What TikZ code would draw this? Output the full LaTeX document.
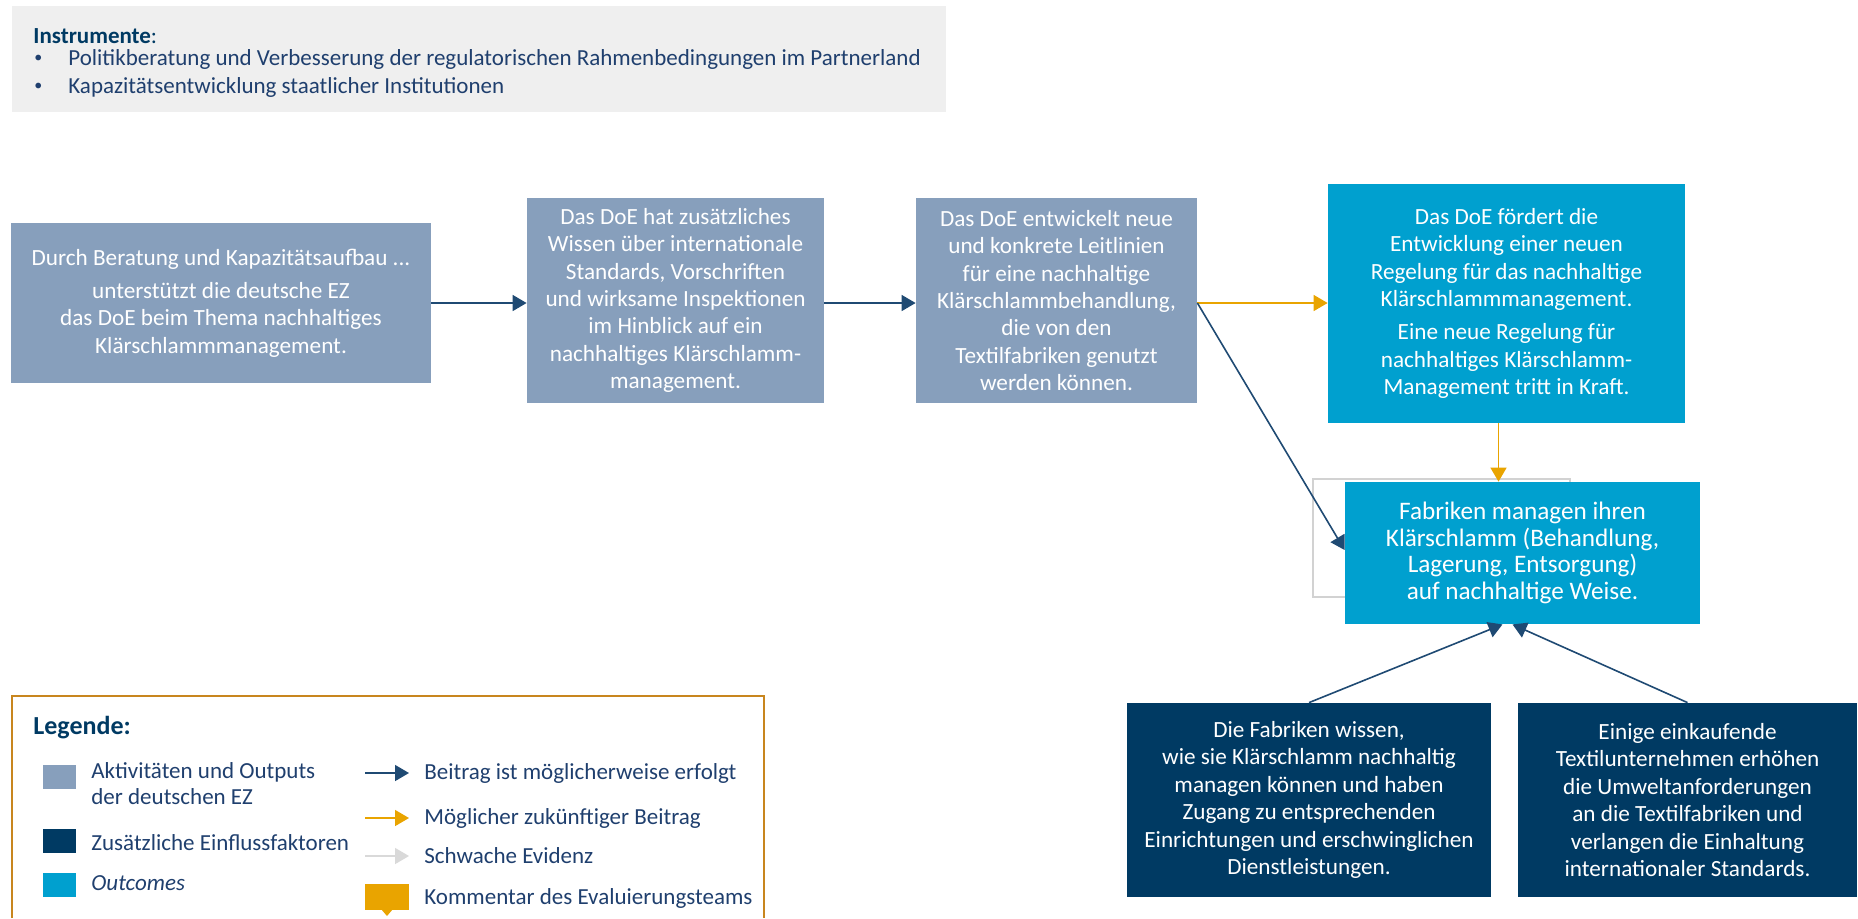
\documentclass[tikz,border=0pt]{standalone}
\usepackage{fontspec}
\setmainfont{Carlito}
\usetikzlibrary{arrows.meta}

\definecolor{aktiv}{HTML}{879FBC}
\definecolor{faktor}{HTML}{003A63}
\definecolor{outcome}{HTML}{00A0CF}
\definecolor{kommentar}{HTML}{E9A400}
\definecolor{rahmen}{HTML}{C8861E}
\definecolor{pfeil}{HTML}{1F4A73}
\definecolor{schrift}{HTML}{1F3F6E}
\definecolor{hellgrau}{HTML}{EFEFEF}
\definecolor{schwach}{HTML}{D9D9D9}

\tikzset{
  kasten/.style={inner sep=0pt, align=center, text=white,
    font=\fontsize{11.6}{13.7}\selectfont},
  aktivbox/.style={kasten, fill=aktiv},
  faktorbox/.style={kasten, fill=faktor},
  outcomebox/.style={kasten, fill=outcome},
  beitrag/.style={pfeil, line width=0.8pt, -{Triangle[length=7pt, width=8pt]}},
  zukunft/.style={kommentar, line width=0.8pt, -{Triangle[length=7pt, width=8pt]}},
  schwachpfeil/.style={schwach, line width=0.8pt, -{Triangle[length=7pt, width=8pt]}},
  legtext/.style={anchor=west, inner sep=0pt, text=schrift, align=left,
    font=\fontsize{11.5}{13}\selectfont},
}

\begin{document}
\begin{tikzpicture}[x=0.5pt, y=-0.5pt]

    \useasboundingbox (0,0) rectangle (1858,918);

    % Instrumente
    \fill[hellgrau] (12,6) rectangle (946,112);
    \node[legtext, text=faktor] (instr) at (33,36) {\textbf{Instrumente}:};
    \node[legtext, font=\fontsize{8}{9}\selectfont] (bul1) at (34,59) {\textbullet};
    \node[legtext] (instr1) at (68,59) {Politikberatung und Verbesserung der regulatorischen Rahmenbedingungen im Partnerland};
    \node[legtext, font=\fontsize{8}{9}\selectfont] (bul2) at (34,87) {\textbullet};
    \node[legtext] (instr2) at (68,87) {Kapazitätsentwicklung staatlicher Institutionen};

    % Wirkungskette
    \node[aktivbox, minimum width=210pt, minimum height=80pt] (a) at (221,303)
      {Durch Beratung und Kapazitätsaufbau ...\\[3pt]
       unterstützt die deutsche EZ\\ das DoE beim Thema nachhaltiges\\ Klärschlammmanagement.};
    \node[aktivbox, minimum width=148.5pt, minimum height=102.5pt] (b) at (675.5,300.5)
      {Das DoE hat zusätzliches\\ Wissen über internationale\\ Standards, Vorschriften\\
       und wirksame Inspektionen\\ im Hinblick auf ein\\ nachhaltiges Klärschlamm-\\ management.};
    \node[aktivbox, minimum width=140.5pt, minimum height=102.5pt] (c) at (1056.5,300.5)
      {Das DoE entwickelt neue\\ und konkrete Leitlinien\\ für eine nachhaltige\\
       Klärschlammbehandlung,\\ die von den\\ Textilfabriken genutzt\\ werden können.};
    \node[outcomebox, minimum width=178.5pt, minimum height=119.5pt] (d) at (1506.5,303.5)
      {Das DoE fördert die\\ Entwicklung einer neuen\\ Regelung für das nachhaltige\\ Klärschlammmanagement.\\[3pt]
       Eine neue Regelung für\\ nachhaltiges Klärschlamm-\\ Management tritt in Kraft.};

    \draw[gray!35, line width=0.6pt] (1313,479) rectangle (1570,597);
    \node[outcomebox, minimum width=177.5pt, minimum height=71pt,
          font=\fontsize{12.6}{13.3}\selectfont] (e) at (1522.5,553)
      {Fabriken managen ihren\\ Klärschlamm (Behandlung,\\ Lagerung, Entsorgung)\\ auf nachhaltige Weise.};

    \node[faktorbox, minimum width=182pt, minimum height=97pt] (f) at (1309,800)
      {Die Fabriken wissen,\\ wie sie Klärschlamm nachhaltig\\ managen können und haben\\
       Zugang zu entsprechenden\\ Einrichtungen und erschwinglichen\\ Dienstleistungen.};
    \node[faktorbox, minimum width=169.5pt, minimum height=97pt] (g) at (1687.5,800)
      {Einige einkaufende\\ Textilunternehmen erhöhen\\ die Umweltanforderungen\\
       an die Textilfabriken und\\ verlangen die Einhaltung\\ internationaler Standards.};

    \draw[beitrag] (a.east) -- (a.east -| b.west);
    \draw[beitrag] ([yshift=-1.25pt]b.east) -- ([yshift=-1.25pt]b.east -| c.west);
    \draw[zukunft] ([yshift=-1.25pt]c.east) -- ([yshift=-1.25pt]c.east -| d.west);
    \draw[beitrag] ([yshift=-1.25pt]c.east) -- ([yshift=1.5pt]e.west);
    \draw[zukunft] ([xshift=-4pt]d.south) -- ([xshift=-4pt]d.south |- e.north);
    \draw[beitrag] (f.north) -- ([xshift=-10pt]e.south);
    \draw[beitrag] (g.north) -- ([xshift=-5pt]e.south);

    % Legende
    \draw[rahmen, line width=1pt] (12,918) |- (764,696) -- (764,918);
    \node[legtext, text=faktor, font=\fontsize{13}{15}\selectfont\bfseries] (leg) at (33,728) {Legende:};

    \fill[aktiv] (43,765) rectangle (76,789);
    \node[legtext] (l1) at (91,784) {Aktivitäten und Outputs\\ der deutschen EZ};
    \fill[faktor] (43,829) rectangle (76,853);
    \node[legtext] (l2) at (91,843) {Zusätzliche Einflussfaktoren};
    \fill[outcome] (43,873) rectangle (76,897);
    \node[legtext] (l3) at (91,883) {\textit{Outcomes}};

    \node[legtext] (r1) at (424,773) {Beitrag ist möglicherweise erfolgt};
    \draw[beitrag] ([xshift=-29.5pt]r1.west) -- ([xshift=-7.5pt]r1.west);
    \node[legtext] (r2) at (424,818) {Möglicher zukünftiger Beitrag};
    \draw[zukunft] ([xshift=-29.5pt]r2.west) -- ([xshift=-7.5pt]r2.west);
    \node[legtext] (r3) at (424,856) {Schwache Evidenz};
    \draw[schwachpfeil] ([xshift=-29.5pt]r3.west) -- ([xshift=-7.5pt]r3.west);
    \node[legtext] (r4) at (424,898) {Kommentar des Evaluierungsteams};
    \fill[kommentar] (365,884) rectangle (409,910);
    \fill[kommentar] (381,909) -- (387,916) -- (393,909) -- cycle;

\end{tikzpicture}
\end{document}
